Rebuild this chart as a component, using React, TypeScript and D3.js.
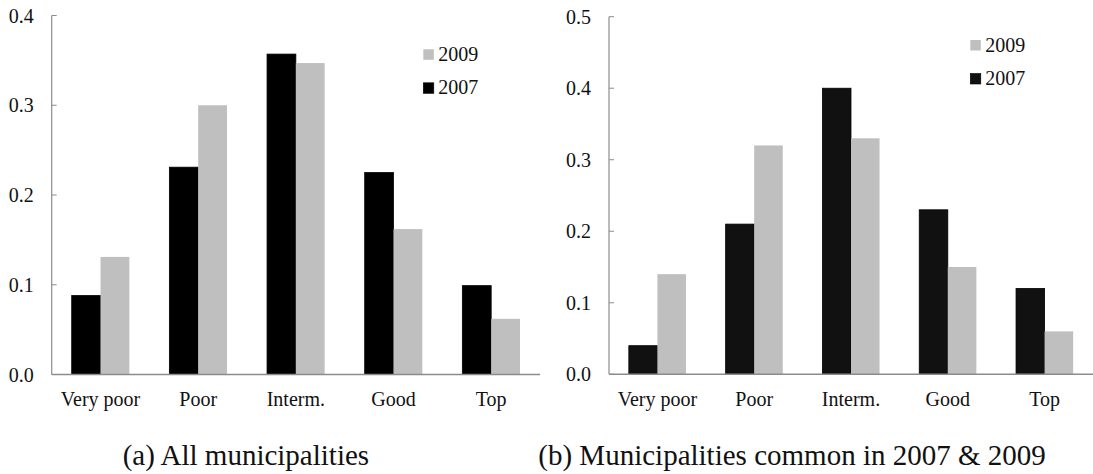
import React from "react";
import * as d3 from "d3";

const categories = ["Very poor", "Poor", "Interm.", "Good", "Top"];
const seriesNames = ["2007", "2009"];
const allMun2007 = [0.088, 0.231, 0.357, 0.225, 0.099];
const allMun2009 = [0.131, 0.3, 0.347, 0.162, 0.062];
const common2007 = [0.04, 0.21, 0.4, 0.23, 0.12];
const common2009 = [0.14, 0.32, 0.33, 0.15, 0.06];
const ticksA = [0, 0.1, 0.2, 0.3, 0.4];
const ticksB = [0, 0.1, 0.2, 0.3, 0.4, 0.5];
const captionA = "(a) All municipalities";
const captionB = "(b) Municipalities common in 2007 & 2009";

const FONT = "Liberation Serif, Times New Roman, Times, DejaVu Serif, serif";
const textStyle = { fontFamily: FONT };

type PanelProps = {
  left: number;
  right: number;
  y0: number;
  yTop: number;
  maxV: number;
  ticks: number[];
  v2007: number[];
  v2009: number[];
  dark: string;
  legendX: number;
  legendY: number;
  caption: string;
  captionX: number;
};

function Panel(p: PanelProps) {
  const x0 = d3
    .scaleBand<string>()
    .domain(categories)
    .range([p.left, p.right])
    .paddingInner(0.41)
    .paddingOuter(0.205);
  const x1 = d3.scaleBand<string>().domain(seriesNames).range([0, x0.bandwidth()]);
  const y = d3.scaleLinear().domain([0, p.maxV]).range([p.y0, p.yTop]);
  const fmt = d3.format(".1f");
  const colors: Record<string, string> = { "2007": p.dark, "2009": "#bfbfbf" };
  const vals: Record<string, number[]> = { "2007": p.v2007, "2009": p.v2009 };
  const axisColor = "#8c8c8c";
  return (
    <g>
      {categories.map((c, i) => (
        <g key={c} transform={`translate(${x0(c)},0)`}>
          {seriesNames.map((s) => (
            <rect
              key={s}
              x={x1(s)}
              y={y(vals[s][i])}
              width={x1.bandwidth()}
              height={p.y0 - y(vals[s][i])}
              fill={colors[s]}
              stroke={s === "2007" ? "#000" : "none"}
              strokeWidth={s === "2007" ? 0.8 : 0}
            />
          ))}
        </g>
      ))}
      <line x1={p.left} x2={p.left} y1={p.y0} y2={y(p.maxV)} stroke={axisColor} strokeWidth={1.2} />
      {p.ticks.map((t) => (
        <g key={t}>
          <line x1={p.left} x2={p.left + 5} y1={y(t)} y2={y(t)} stroke={axisColor} strokeWidth={1} />
          <text
            x={p.left - 18}
            y={y(t)}
            dy="0.35em"
            textAnchor="end"
            style={textStyle}
            fontSize={20}
            fill="#111"
          >
            {fmt(t)}
          </text>
        </g>
      ))}
      <line x1={p.left} x2={p.right} y1={p.y0} y2={p.y0} stroke={axisColor} strokeWidth={1.4} />
      {categories.map((c) => (
        <text
          key={c}
          x={(x0(c) as number) + x0.bandwidth() / 2}
          y={405.5}
          textAnchor="middle"
          style={textStyle}
          fontSize={20}
          fill="#111"
        >
          {c}
        </text>
      ))}
      {["2009", "2007"].map((s, i) => (
        <g key={s} transform={`translate(${p.legendX},${p.legendY + i * 33.5})`}>
          <rect x={0} y={0} width={10.5} height={10.5} fill={colors[s]} stroke={s === "2007" ? "#000" : "none"} strokeWidth={0.6} />
          <text x={15} y={11.5} style={textStyle} fontSize={20} fill="#111">
            {s}
          </text>
        </g>
      ))}
      <text x={p.captionX} y={465} style={textStyle} fontSize={29} fill="#111">
        {p.caption}
      </text>
    </g>
  );
}

export default function App() {
  return (
    <svg
      width={1093}
      height={474}
      viewBox="0 0 1093 474"
      style={{ position: "absolute", left: 0, top: 0, background: "#fff" }}
    >
      <rect width={1093} height={474} fill="#fff" />
      <Panel
        left={51.7}
        right={540}
        y0={374.5}
        yTop={15.5}
        maxV={0.4}
        ticks={ticksA}
        v2007={allMun2007}
        v2009={allMun2009}
        dark="#000"
        legendX={423.3}
        legendY={49.3}
        caption={captionA}
        captionX={122.7}
      />
      <Panel
        left={609}
        right={1093}
        y0={374.3}
        yTop={16.7}
        maxV={0.5}
        ticks={ticksB}
        v2007={common2007}
        v2009={common2009}
        dark="#111"
        legendX={970.3}
        legendY={40}
        caption={captionB}
        captionX={538.3}
      />
    </svg>
  );
}
